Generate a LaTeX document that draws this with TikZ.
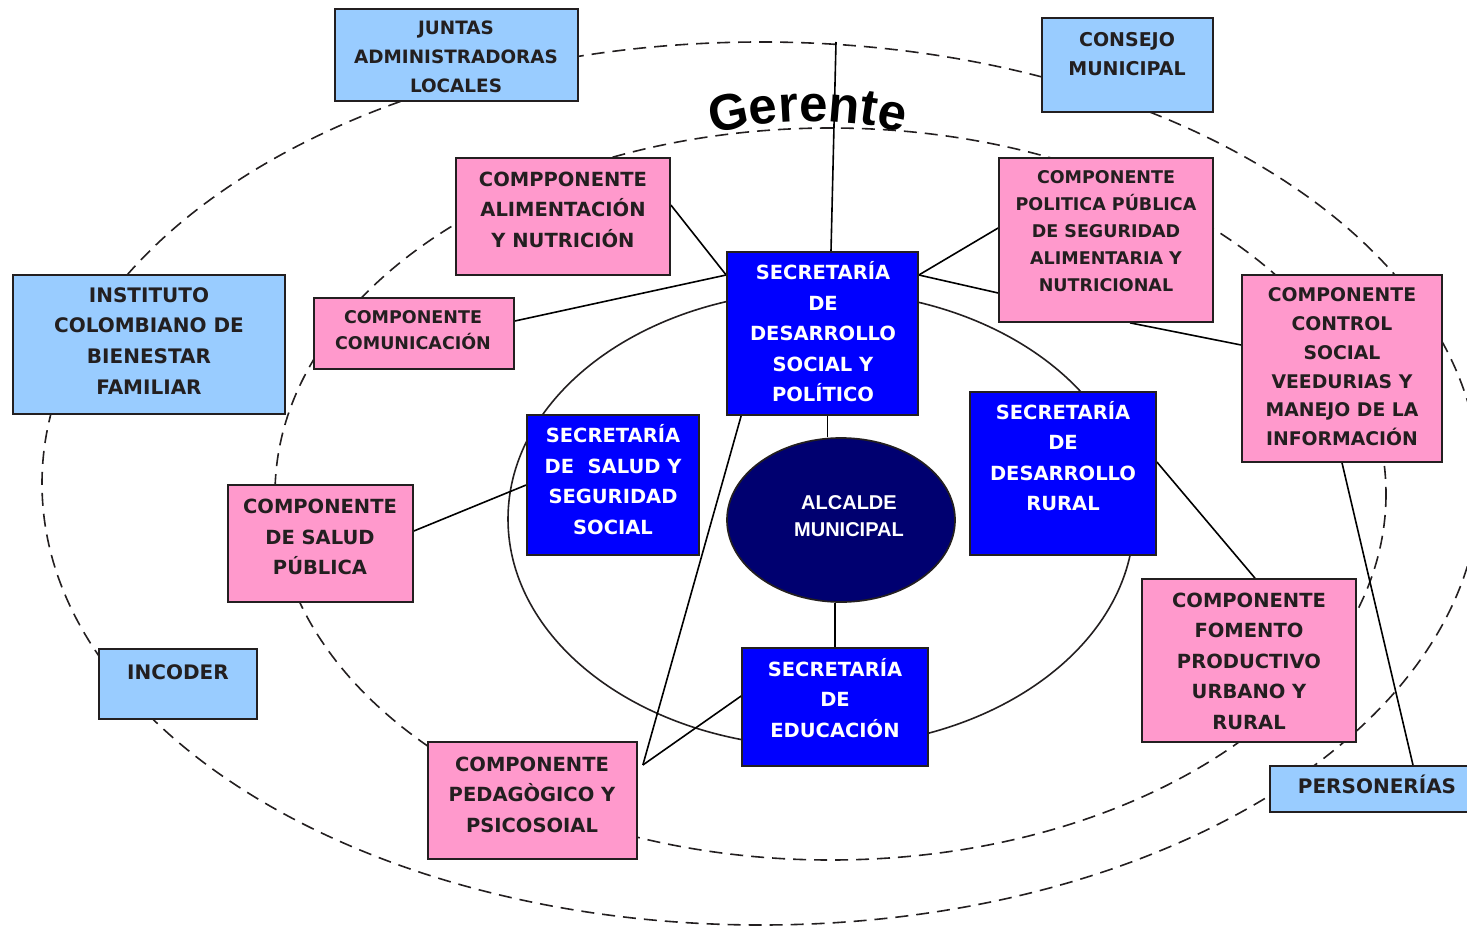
\documentclass[tikz,border=0pt]{standalone}
\usepackage{fontspec}
\setmainfont{DejaVu Sans}
\newfontfamily\arialf{Liberation Sans}
\usetikzlibrary{decorations.text,shapes.geometric}
\pgfdeclarelayer{bg}
\pgfsetlayers{bg,main}
\definecolor{lblue}{HTML}{99CCFF}
\definecolor{pinkc}{HTML}{FF99CC}
\definecolor{sblue}{HTML}{0000FF}
\definecolor{navyc}{HTML}{000070}
\definecolor{ink}{HTML}{231F20}
\newcommand\gerfont{\arialf\bfseries\fontsize{51}{60}\selectfont}
\tikzset{
 box/.style={draw=ink, line width=1.7pt, rectangle, inner sep=0pt},
 lb/.style={box, fill=lblue},
 pk/.style={box, fill=pinkc},
 bl/.style={box, fill=sblue},
 fs/.style n args={2}{font=\bfseries\fontsize{#1}{#2}\selectfont},
 txt/.style={align=center, inner sep=0pt, text=ink, fs={19.5}{30.5}},
 wtxt/.style={txt, text=white},
 conn/.style={line width=1.6pt, draw=black},
 dell/.style={line width=1.6pt, draw=ink, dash pattern=on 13pt off 8pt},
 sell/.style={line width=1.6pt, draw=ink}
}
\begin{document}
\begin{tikzpicture}[x=1pt,y=-1pt]
\useasboundingbox (0,0) rectangle (1467,928);

% light blue boxes
\node[lb, minimum width=243pt, minimum height=92pt] (juntas) at (456.5,55) {};
\node[txt, fs={18.4}{29}] (juntas-t) at (456,58) {\strut JUNTAS\\ADMINISTRADORAS\\LOCALES\strut};
\node[lb, minimum width=171pt, minimum height=94pt] (consejo) at (1127.5,65) {};
\node[txt, fs={19}{29}] (consejo-t) at (1127,55.5) {\strut CONSEJO\\MUNICIPAL\strut};
\node[lb, minimum width=272pt, minimum height=139pt] (icbf) at (149,344.5) {};
\node[txt, fs={20}{30.7}] (icbf-t) at (149,342) {\strut INSTITUTO\\COLOMBIANO DE\\BIENESTAR\\FAMILIAR\strut};
\node[lb, minimum width=158pt, minimum height=70pt] (incoder) at (178,684) {};
\node[txt, fs={20}{30}] (incoder-t) at (178,673) {\strut INCODER\strut};
\node[lb, minimum width=205pt, minimum height=46pt] (person) at (1372.5,789) {};
\node[txt, fs={20}{30}] (person-t) at (1377,787) {\strut PERSONERÍAS\strut};

% pink boxes
\node[pk, minimum width=214pt, minimum height=117pt] (alim) at (563,216.5) {};
\node[txt] (alim-t) at (563,210.5) {\strut COMPPONENTE\\ALIMENTACIÓN\\Y NUTRICIÓN\strut};
\node[pk, minimum width=200pt, minimum height=71pt] (comun) at (414,333.5) {};
\node[txt, fs={17.5}{26}] (comun-t) at (413,331) {\strut COMPONENTE\\COMUNICACIÓN\strut};
\node[pk, minimum width=214pt, minimum height=164pt] (polit) at (1106,240) {};
\node[txt, fs={17.5}{27}] (polit-t) at (1106,232) {\strut COMPONENTE\\POLITICA PÚBLICA\\DE SEGURIDAD\\ALIMENTARIA Y\\NUTRICIONAL\strut};
\node[pk, minimum width=200pt, minimum height=187pt] (control) at (1342,368.5) {};
\node[txt, fs={18.8}{28.8}] (control-t) at (1342,368) {\strut COMPONENTE\\CONTROL\\SOCIAL\\VEEDURIAS Y\\MANEJO DE LA\\INFORMACIÓN\strut};
\node[pk, minimum width=185pt, minimum height=117pt] (saludp) at (320.5,543.5) {};
\node[txt] (saludp-t) at (320,538) {\strut COMPONENTE\\DE SALUD\\PÚBLICA\strut};
\node[pk, minimum width=209pt, minimum height=117pt] (pedag) at (532.5,800.5) {};
\node[txt] (pedag-t) at (532,795.5) {\strut COMPONENTE\\PEDAGÒGICO Y\\PSICOSOIAL\strut};
\node[pk, minimum width=214pt, minimum height=163pt] (fomento) at (1249,660.5) {};
\node[txt] (fomento-t) at (1249,662) {\strut COMPONENTE\\FOMENTO\\PRODUCTIVO\\URBANO Y\\RURAL\strut};

% blue boxes
\node[bl, minimum width=191pt, minimum height=163pt] (sds) at (822.5,333.5) {};
\node[wtxt] (sds-t) at (823,334.5) {\strut SECRETARÍA\\DE\\DESARROLLO\\SOCIAL Y\\POLÍTICO\strut};
\node[bl, minimum width=172pt, minimum height=140pt] (salud) at (613,485) {};
\node[wtxt] (salud-t) at (613,482.5) {\strut SECRETARÍA\\DE\ \ SALUD Y\\SEGURIDAD\\SOCIAL\strut};
\node[bl, minimum width=186pt, minimum height=163pt] (rural) at (1063,473.5) {};
\node[wtxt] (rural-t) at (1063,459) {\strut SECRETARÍA\\DE\\DESARROLLO\\RURAL\strut};
\node[bl, minimum width=186pt, minimum height=118pt] (educ) at (835,707) {};
\node[wtxt] (educ-t) at (835,700.5) {\strut SECRETARÍA\\DE\\EDUCACIÓN\strut};

% alcalde
\node[ellipse, draw=ink, line width=1.7pt, fill=navyc, minimum width=228pt, minimum height=164pt, inner sep=0pt] (alcalde) at (841,520) {};
\node[align=center, inner sep=0pt, text=white, font=\arialf\bfseries\fontsize{20}{27}\selectfont] (alcalde-t) at (849,518) {\strut ALCALDE\\MUNICIPAL\strut};

\coordinate (gtop) at (836,42);
\coordinate (q) at ([shift={(5pt,35.5pt)}]pedag.east);

\begin{pgfonlayer}{bg}
\draw[dell] (761,483.5) ellipse [x radius=719, y radius=441.5];
\draw[dell] (830.5,494) ellipse [x radius=555.5, y radius=366];
\draw[sell] (821,519) ellipse [x radius=313, y radius=228];

\path[decorate, decoration={text along path, text align=center, text={|\gerfont|Gerente}}]
  (690,140) .. controls (765,116) and (850,114) .. (925,139);

\draw[conn] (gtop) -- ([xshift=8.5pt]sds.north);
\draw[conn] ([xshift=5pt]sds.south) -- ([xshift=5pt]sds.south |- alcalde.north);
\draw[conn] (educ.north |- alcalde.south) -- (educ.north);
\draw[conn] ([yshift=11.5pt]alim.east) -- ([yshift=58.5pt]sds.west);
\draw[conn] ([yshift=12.5pt]comun.east) -- ([yshift=58.5pt]sds.west);
\draw[conn] ([yshift=58.5pt]sds.east) -- ([yshift=12pt]polit.west);
\draw[conn] ([yshift=58.5pt]sds.east) -- ([yshift=-53pt]polit.west);
\draw[conn] ([xshift=24pt]polit.south) -- ([yshift=23.5pt]control.west);
\draw[conn] ([yshift=12.5pt]saludp.east) -- (salud.west);
\draw[conn] ([xshift=15pt]sds.south west) -- (q);
\draw[conn] ([yshift=11pt]educ.west) -- (q);
\draw[conn] ([yshift=11.5pt]rural.east) -- ([xshift=6pt]fomento.north);
\draw[conn] (control.south) -- ([xshift=40.5pt]person.north);
\end{pgfonlayer}
\end{tikzpicture}
\end{document}
